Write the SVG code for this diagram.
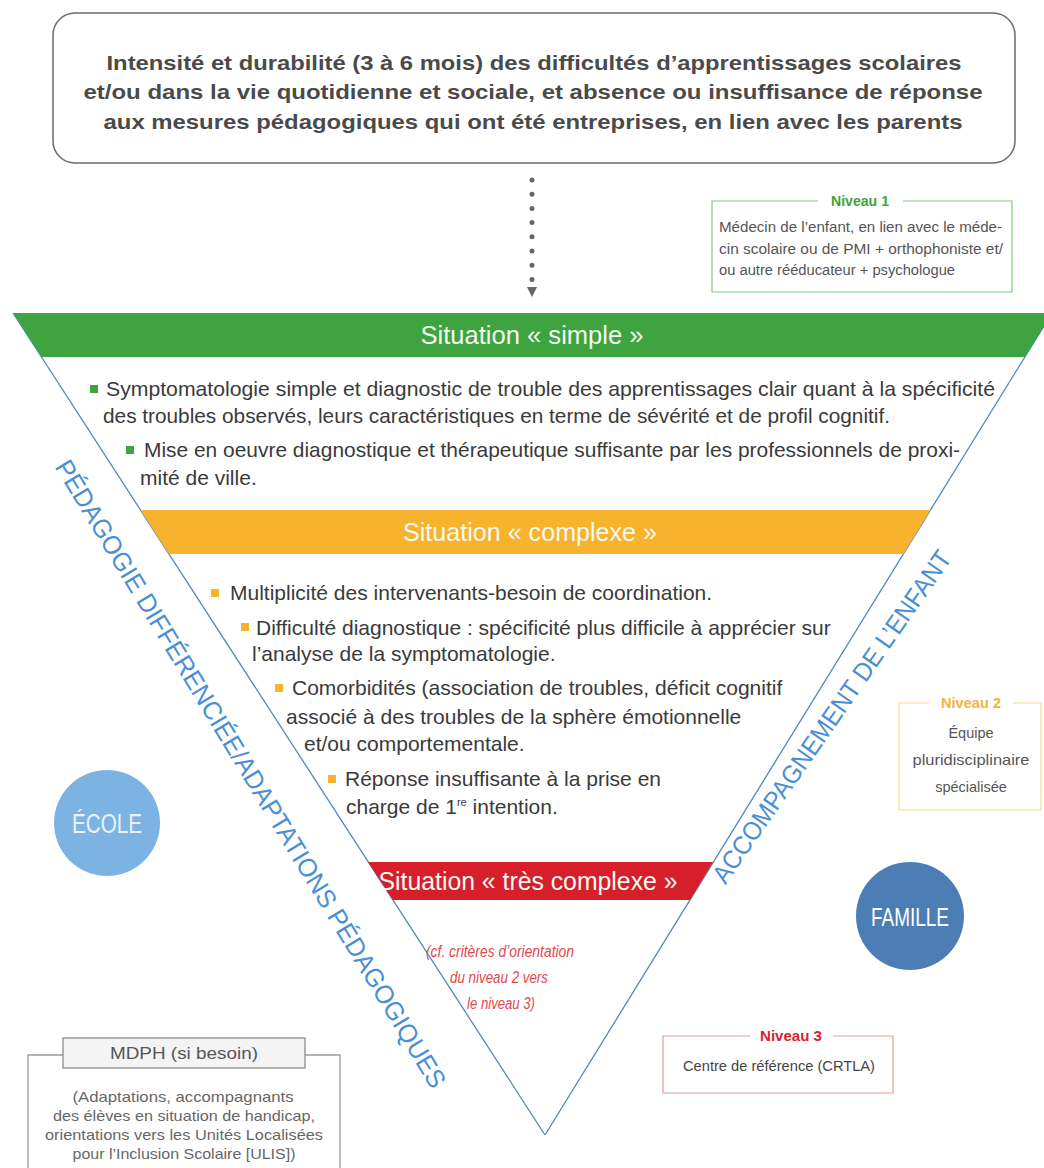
<svg xmlns="http://www.w3.org/2000/svg" width="1044" height="1168" viewBox="0 0 1044 1168">
<defs>
<style>
.sans{font-family:"Liberation Sans",Arial,sans-serif}
.head{font-family:"Liberation Sans",Arial,sans-serif;font-weight:bold;font-size:21px;fill:#4a4a4a;text-anchor:middle}
.body{font-family:"Liberation Sans",Arial,sans-serif;font-size:21px;fill:#3a3a3a}
.banner{font-family:"Liberation Sans",Arial,sans-serif;font-size:26px;fill:#f4f9f1;text-anchor:middle}
.diag{font-family:"Liberation Sans",Arial,sans-serif;font-size:26px;fill:#4a8fd6}
.small{font-family:"Liberation Sans",Arial,sans-serif;font-size:14px;fill:#555}
.niv{font-family:"Liberation Sans",Arial,sans-serif;font-size:15px;font-weight:bold;text-anchor:middle}
.cf{font-family:"Liberation Sans",Arial,sans-serif;font-size:16px;font-style:italic;fill:#e2474c;text-anchor:middle}
.mdph{font-family:"Liberation Sans",Arial,sans-serif;font-size:14.5px;fill:#666;text-anchor:middle}
.tri{stroke:#4f86c6;stroke-width:1.3;fill:none}
.bg{fill:#3da43f}
.by{fill:#f7b22e}
</style>
<marker id="arrow" viewBox="0 0 12 10" refX="0" refY="5" markerWidth="12" markerHeight="10" markerUnits="userSpaceOnUse" orient="auto">
<path d="M0,0 L10,5 L0,10 Z" fill="#666"/>
</marker>
</defs>
<rect width="1044" height="1168" fill="#ffffff"/>

<g id="top-box">
<rect x="53" y="13" width="962" height="150" rx="22" fill="#fff" stroke="#6b6b6b" stroke-width="1.5"/>
<text class="head" x="534" y="70" textLength="855" lengthAdjust="spacingAndGlyphs">Intensité et durabilité (3 à 6 mois) des difficultés d’apprentissages scolaires</text>
<text class="head" x="533" y="99" textLength="899" lengthAdjust="spacingAndGlyphs">et/ou dans la vie quotidienne et sociale, et absence ou insuffisance de réponse</text>
<text class="head" x="533" y="129" textLength="859" lengthAdjust="spacingAndGlyphs">aux mesures pédagogiques qui ont été entreprises, en lien avec les parents</text>
</g>

<g id="connectors">
<path d="M532,180 V287" fill="none" stroke="#666" stroke-width="5" stroke-linecap="round" stroke-dasharray="0 14.2" marker-end="url(#arrow)"/>
<line class="tri" x1="13" y1="313" x2="545" y2="1135"/>
<line class="tri" x1="1052" y1="313" x2="545" y2="1135"/>
</g>

<g id="niveau1">
<path d="M818,201 H712 V292 H1012 V201 H903" fill="none" stroke="#86c983" stroke-width="1.2"/>
<text class="niv" x="860" y="206" fill="#3aa63a" textLength="58" lengthAdjust="spacingAndGlyphs">Niveau 1</text>
<text class="small" x="719" y="232" textLength="283" lengthAdjust="spacingAndGlyphs">Médecin de l’enfant, en lien avec le méde-</text>
<text class="small" x="719" y="254" textLength="284" lengthAdjust="spacingAndGlyphs">cin scolaire ou de PMI + orthophoniste et/</text>
<text class="small" x="719" y="275" textLength="236" lengthAdjust="spacingAndGlyphs">ou autre rééducateur + psychologue</text>
</g>

<g id="situation-simple">
<polygon points="13,313 1052,313 1025,357 41.5,357" class="bg"/>
<text class="banner" x="532" y="344" textLength="223" lengthAdjust="spacingAndGlyphs">Situation « simple »</text>
<rect x="90" y="385" width="8" height="8" class="bg"/>
<text class="body" x="106" y="396" textLength="889" lengthAdjust="spacingAndGlyphs">Symptomatologie simple et diagnostic de trouble des apprentissages clair quant à la spécificité</text>
<text class="body" x="103" y="423" textLength="787" lengthAdjust="spacingAndGlyphs">des troubles observés, leurs caractéristiques en terme de sévérité et de profil cognitif.</text>
<rect x="126" y="446" width="8" height="8" class="bg"/>
<text class="body" x="144" y="457" textLength="816" lengthAdjust="spacingAndGlyphs">Mise en oeuvre diagnostique et thérapeutique suffisante par les professionnels de proxi-</text>
<text class="body" x="140" y="485">mité de ville.</text>
</g>

<g id="situation-complexe">
<polygon points="140.5,510 930.5,510 903.4,554 169,554" class="by"/>
<text class="banner" x="530" y="541" textLength="254" lengthAdjust="spacingAndGlyphs">Situation « complexe »</text>
<rect x="211" y="589" width="8" height="8" class="by"/>
<text class="body" x="230" y="600">Multiplicité des intervenants-besoin de coordination.</text>
<rect x="241" y="623" width="8" height="8" class="by"/>
<text class="body" x="256" y="635">Difficulté diagnostique : spécificité plus difficile à apprécier sur</text>
<text class="body" x="252" y="661">l’analyse de la symptomatologie.</text>
<rect x="275" y="684" width="8" height="8" class="by"/>
<text class="body" x="292" y="695">Comorbidités (association de troubles, déficit cognitif</text>
<text class="body" x="286" y="724">associé à des troubles de la sphère émotionnelle</text>
<text class="body" x="304" y="751">et/ou comportementale.</text>
<rect x="328" y="775" width="8" height="8" class="by"/>
<text class="body" x="345" y="786">Réponse insuffisante à la prise en</text>
<text class="body" x="346" y="814">charge de 1<tspan font-size="11" dy="-8">re</tspan><tspan dy="8"> intention.</tspan></text>
</g>

<g id="situation-tres-complexe">
<polygon points="368,862 713,862 690,900 393,900" fill="#d61f2b"/>
<text class="banner" x="528" y="890" textLength="299" lengthAdjust="spacingAndGlyphs">Situation « très complexe »</text>
<text class="cf" x="500" y="957" textLength="148" lengthAdjust="spacingAndGlyphs">(cf. critères d’orientation</text>
<text class="cf" x="499" y="983" textLength="98" lengthAdjust="spacingAndGlyphs">du niveau 2 vers</text>
<text class="cf" x="501" y="1009" textLength="68" lengthAdjust="spacingAndGlyphs">le niveau 3)</text>
</g>

<g id="pedagogie">
<text class="diag" transform="translate(62,462) rotate(58.8)" x="0" y="9" textLength="729" lengthAdjust="spacingAndGlyphs">PÉDAGOGIE DIFFÉRENCIÉE/ADAPTATIONS PÉDAGOGIQUES</text>
</g>

<g id="accompagnement">
<text class="diag" transform="translate(718,880) rotate(-55.2)" x="0" y="9" textLength="398" lengthAdjust="spacingAndGlyphs">ACCOMPAGNEMENT DE L’ENFANT</text>
</g>

<g id="niveau2">
<path d="M929,703 H899 V810 H1041 V703 H1013" fill="none" stroke="#f6d98f" stroke-width="1.2"/>
<text class="niv" x="971" y="708" fill="#f2b43b" textLength="60" lengthAdjust="spacingAndGlyphs">Niveau 2</text>
<text class="sans" x="971" y="738" font-size="14.5" fill="#555" text-anchor="middle">Équipe</text>
<text class="sans" x="971" y="765" font-size="14.5" fill="#555" text-anchor="middle" textLength="117" lengthAdjust="spacingAndGlyphs">pluridisciplinaire</text>
<text class="sans" x="971" y="792" font-size="14.5" fill="#555" text-anchor="middle">spécialisée</text>
</g>

<g id="ecole">
<circle cx="107" cy="823" r="53" fill="#7db3e3"/>
<text class="sans" x="107" y="833" font-size="27" fill="#eaf3fb" text-anchor="middle" textLength="70" lengthAdjust="spacingAndGlyphs">ÉCOLE</text>
</g>

<g id="famille">
<circle cx="910" cy="916" r="54" fill="#4d7db5"/>
<text class="sans" x="910" y="926" font-size="26" fill="#ffffff" text-anchor="middle" textLength="78" lengthAdjust="spacingAndGlyphs">FAMILLE</text>
</g>

<g id="niveau3">
<path d="M750,1036 H663 V1093 H893 V1036 H833" fill="none" stroke="#e79a9d" stroke-width="1.2"/>
<text class="niv" x="791" y="1041" fill="#d6242c" textLength="62" lengthAdjust="spacingAndGlyphs">Niveau 3</text>
<text class="sans" x="779" y="1071" font-size="14.5" fill="#444" text-anchor="middle" textLength="192" lengthAdjust="spacingAndGlyphs">Centre de référence (CRTLA)</text>
</g>

<g id="mdph">
<path d="M63,1055 H28 V1172 M305,1055 H340 V1172" fill="none" stroke="#9a9a9a" stroke-width="1.3"/>
<rect x="63" y="1038" width="242" height="30" fill="#f4f4f4" stroke="#8a8a8a" stroke-width="1.3"/>
<text class="sans" x="184" y="1059" font-size="17" fill="#555" text-anchor="middle" textLength="148" lengthAdjust="spacingAndGlyphs">MDPH (si besoin)</text>
<text class="mdph" x="183" y="1102" textLength="221" lengthAdjust="spacingAndGlyphs">(Adaptations, accompagnants</text>
<text class="mdph" x="184" y="1121" textLength="262" lengthAdjust="spacingAndGlyphs">des élèves en situation de handicap,</text>
<text class="mdph" x="184" y="1140" textLength="278" lengthAdjust="spacingAndGlyphs">orientations vers les Unités Localisées</text>
<text class="mdph" x="184" y="1159" textLength="223" lengthAdjust="spacingAndGlyphs">pour l’Inclusion Scolaire [ULIS])</text>
</g>
</svg>
